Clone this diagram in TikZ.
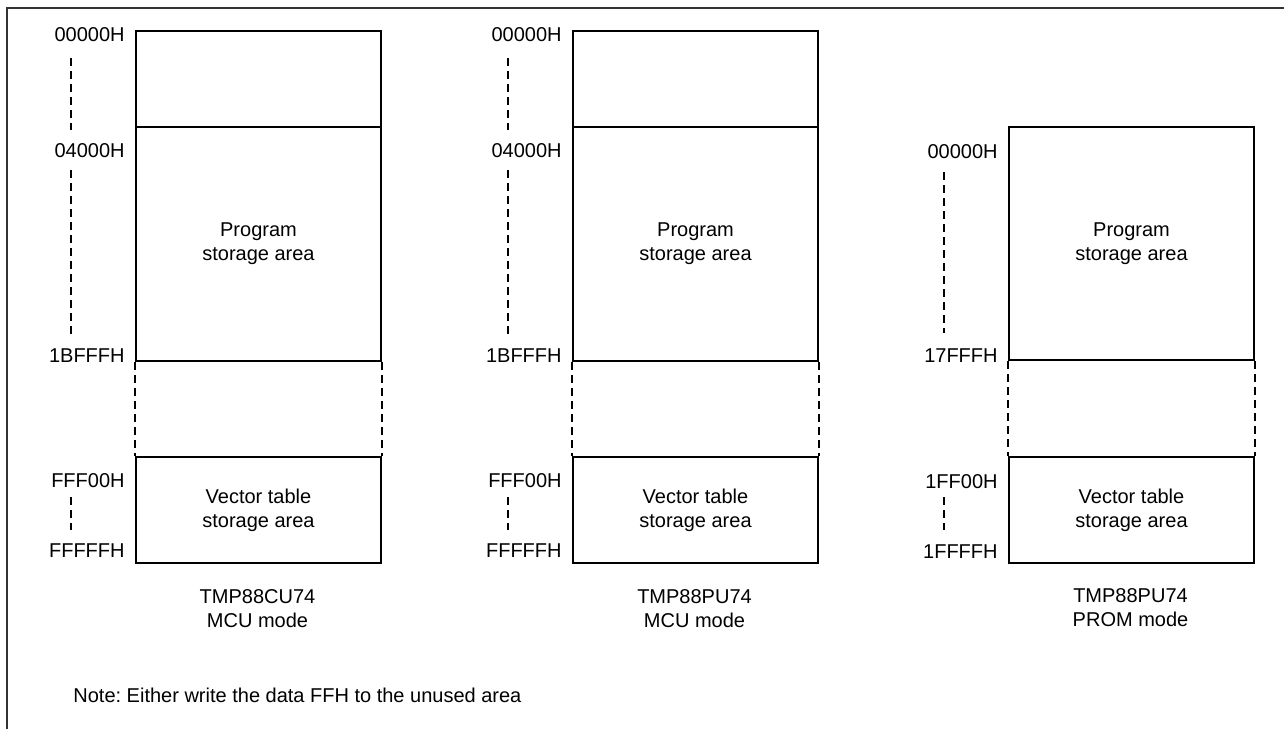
\documentclass[tikz,border=0pt]{standalone}
\usepackage{fontspec}
\setmainfont{Liberation Sans}
\frenchspacing
\begin{document}
\begin{tikzpicture}[x=0.5pt,y=-0.5pt,
  font=\fontsize{10}{12}\selectfont,
  boxline/.style={draw=black,line width=1pt},
  dashline/.style={draw=black,line width=0.9pt,dash pattern=on 4pt off 2.5pt},
  addr/.style={anchor=east,inner sep=0pt},
  region/.style={boxline,inner sep=0pt,anchor=north west,minimum width=122.5pt,align=center},
  caption/.style={align=center,inner sep=0pt}]
\useasboundingbox (0,0) rectangle (1284,728);
% outer frame
\draw[line width=1pt,draw=black!80] (1290,8) -- (7,8) -- (7,740);

% ---------- column 1 ----------
\node[region,minimum height=48pt] (a1) at (135,30) {};
\node[region,minimum height=117pt] (b1) at (135,126) {Program\\storage area};
\node[region,minimum height=53pt] (c1) at (135,456) {Vector table\\storage area};
\draw[dashline] (b1.south west) -- (c1.north west);
\draw[dashline] (b1.south east) -- (c1.north east);
\node[addr] (l11) at (125,35) {00000H};
\node[addr] (l12) at (125,151) {04000H};
\node[addr] (l13) at (125,356) {1BFFFH};
\node[addr] (l14) at (125,481) {FFF00H};
\node[addr] (l15) at (125,551) {FFFFFH};
\coordinate (d11) at (71,58); \coordinate (d12) at (71,130);
\coordinate (d13) at (71,170); \coordinate (d14) at (71,337);
\coordinate (d15) at (71,497); \coordinate (d16) at (71,530);
\draw[dashline] (d11) -- (d12);
\draw[dashline] (d13) -- (d14);
\draw[dashline] (d15) -- (d16);
\node[caption] (cap1) at (257.5,609) {TMP88CU74\\MCU mode};

% ---------- column 2 ----------
\node[region,minimum height=48pt] (a2) at (572,30) {};
\node[region,minimum height=117pt] (b2) at (572,126) {Program\\storage area};
\node[region,minimum height=53pt] (c2) at (572,456) {Vector table\\storage area};
\draw[dashline] (b2.south west) -- (c2.north west);
\draw[dashline] (b2.south east) -- (c2.north east);
\node[addr] (l21) at (562,35) {00000H};
\node[addr] (l22) at (562,151) {04000H};
\node[addr] (l23) at (562,356) {1BFFFH};
\node[addr] (l24) at (562,481) {FFF00H};
\node[addr] (l25) at (562,551) {FFFFFH};
\coordinate (d21) at (508,58); \coordinate (d22) at (508,130);
\coordinate (d23) at (508,170); \coordinate (d24) at (508,337);
\coordinate (d25) at (508,497); \coordinate (d26) at (508,530);
\draw[dashline] (d21) -- (d22);
\draw[dashline] (d23) -- (d24);
\draw[dashline] (d25) -- (d26);
\node[caption] (cap2) at (694.5,609) {TMP88PU74\\MCU mode};

% ---------- column 3 ----------
\node[region,minimum height=116.5pt] (b3) at (1008,126) {Program\\storage area};
\node[region,minimum height=53pt] (c3) at (1008,456) {Vector table\\storage area};
\draw[dashline] (b3.south west) -- (c3.north west);
\draw[dashline] (b3.south east) -- (c3.north east);
\node[addr] (l31) at (998,152) {00000H};
\node[addr] (l32) at (998,356) {17FFFH};
\node[addr] (l33) at (998,482) {1FF00H};
\node[addr] (l34) at (998,552) {1FFFFH};
\coordinate (d31) at (944,172); \coordinate (d32) at (944,333);
\coordinate (d33) at (944,497); \coordinate (d34) at (944,530);
\draw[dashline] (d31) -- (d32);
\draw[dashline] (d33) -- (d34);
\node[caption] (cap3) at (1130.5,608) {TMP88PU74\\PROM mode};

% note
\node[anchor=west,inner sep=0pt] (note) at (73,695) {Note: Either write the data FFH to the unused area};
\end{tikzpicture}
\end{document}
